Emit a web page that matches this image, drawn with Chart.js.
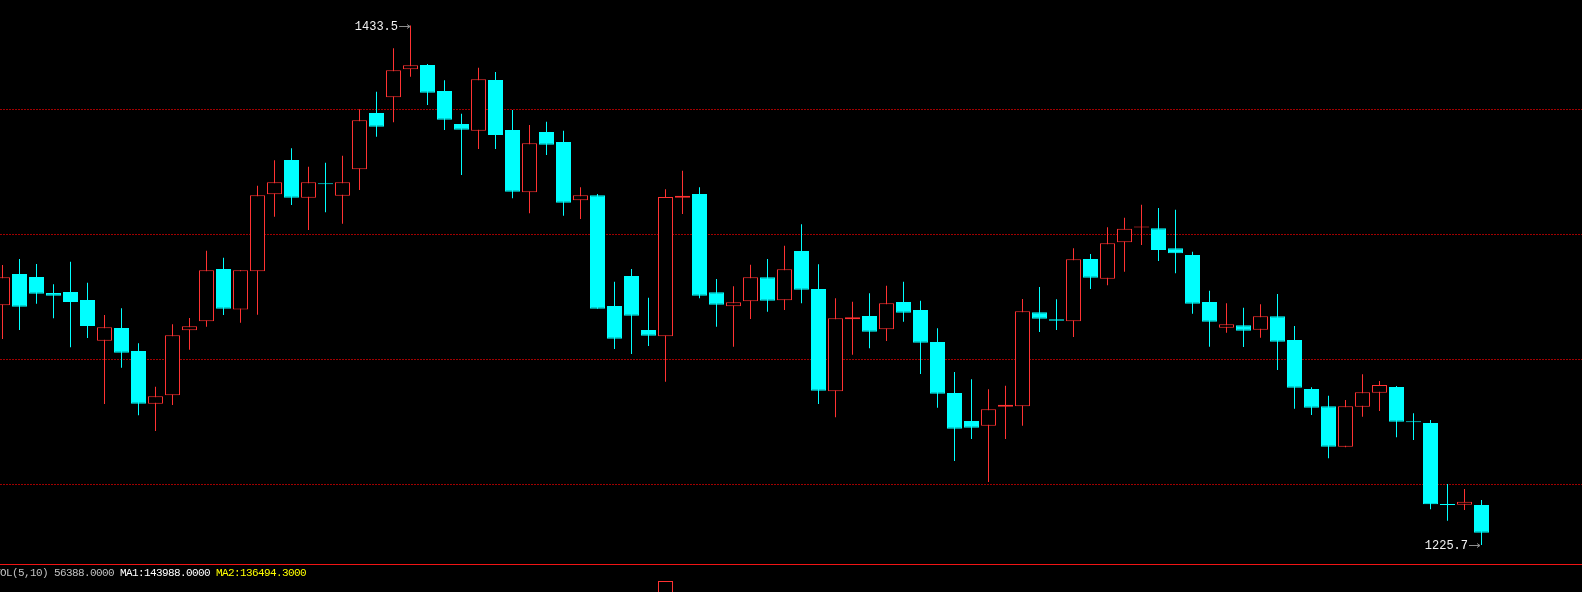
<!DOCTYPE html>
<html>
<head>
<meta charset="utf-8">
<script src="https://cdn.jsdelivr.net/npm/chart.js@4.4.0/dist/chart.umd.min.js"></script>
<style>
  html, body { margin: 0; padding: 0; background: #000; overflow: hidden; width: 1582px; height: 592px; }
  #price { position: absolute; left: 0; top: 0; }
  #vol { position: absolute; left: 0; top: 565px; }
  #sep { position: absolute; left: 0; top: 564px; width: 1582px; height: 1px; background: #f01414; }
  #volText { position: absolute; left: -6px; top: 566px; font: 11px "Liberation Mono", monospace;
             letter-spacing: -0.6px; line-height: 14px; white-space: pre; }
</style>
</head>
<body>
<canvas id="price" width="1582" height="564"></canvas>
<canvas id="vol" width="1582" height="130"></canvas>
<div id="sep"></div>
<div id="volText"></div>
<script>
// daily candles
const opens = [
  1321.6, 1334.1, 1332.9, 1326.5, 1326.9, 1323.7, 1307.4, 1312.5, 1303.3, 1282.2,
  1285.6, 1311.6, 1315.2, 1336.1, 1319.9, 1335.2, 1366.0, 1379.7, 1364.6, 1370.2,
  1365.4, 1376.0, 1398.5, 1404.8, 1416.0, 1417.7, 1407.3, 1394.1, 1391.4, 1411.7,
  1391.7, 1366.8, 1390.9, 1386.9, 1363.6, 1365.6, 1321.3, 1333.3, 1311.7, 1309.2,
  1364.6, 1366.1, 1326.8, 1321.2, 1323.2, 1332.8, 1323.6, 1343.3, 1328.1, 1287.2,
  1316.0, 1317.3, 1312.0, 1322.9, 1319.7, 1306.9, 1286.5, 1275.3, 1273.4, 1281.0,
  1281.2, 1318.8, 1316.0, 1315.2, 1340.1, 1332.2, 1346.8, 1352.7, 1352.4, 1344.4,
  1341.7, 1322.9, 1312.6, 1313.6, 1311.8, 1317.2, 1307.7, 1288.1, 1281.2, 1265.0,
  1281.0, 1286.6, 1288.9, 1275.0, 1274.5, 1241.9, 1241.8, 1241.7
];
const highs = [
  1337.7, 1340.1, 1338.1, 1330.0, 1339.0, 1330.6, 1317.7, 1320.4, 1306.4, 1289.0,
  1314.0, 1316.5, 1343.4, 1340.6, 1335.6, 1369.4, 1379.6, 1384.4, 1377.0, 1378.6,
  1381.4, 1400.0, 1407.0, 1424.4, 1433.5, 1418.1, 1411.6, 1398.2, 1416.6, 1414.9,
  1399.7, 1393.7, 1395.0, 1391.4, 1368.8, 1366.1, 1331.0, 1336.1, 1324.6, 1368.0,
  1375.4, 1368.8, 1332.1, 1329.2, 1337.8, 1340.1, 1345.4, 1354.0, 1338.0, 1324.4,
  1323.0, 1326.4, 1329.4, 1331.0, 1323.4, 1312.4, 1294.9, 1292.0, 1288.0, 1289.4,
  1324.1, 1328.9, 1324.0, 1344.4, 1342.1, 1352.8, 1356.6, 1361.8, 1360.5, 1359.8,
  1343.0, 1327.4, 1322.4, 1320.6, 1322.0, 1326.1, 1313.3, 1288.8, 1285.4, 1283.7,
  1294.0, 1291.3, 1289.3, 1278.4, 1275.7, 1250.1, 1248.1, 1243.7
];
const lows = [
  1308.1, 1311.7, 1322.2, 1316.4, 1304.8, 1308.5, 1282.1, 1296.6, 1277.6, 1271.3,
  1281.7, 1303.8, 1313.0, 1317.7, 1314.6, 1317.8, 1357.0, 1361.7, 1351.7, 1358.8,
  1354.2, 1367.7, 1389.0, 1394.8, 1413.0, 1401.7, 1391.7, 1373.7, 1384.1, 1384.1,
  1364.4, 1358.4, 1381.7, 1357.4, 1356.1, 1320.2, 1304.1, 1302.1, 1305.3, 1291.0,
  1358.1, 1324.4, 1313.0, 1305.0, 1316.1, 1319.0, 1319.7, 1322.4, 1282.1, 1276.8,
  1301.8, 1304.4, 1307.3, 1315.0, 1294.1, 1280.6, 1259.3, 1268.1, 1250.9, 1268.1,
  1273.4, 1310.9, 1311.7, 1308.9, 1328.1, 1329.6, 1335.0, 1345.7, 1339.3, 1334.4,
  1318.2, 1305.0, 1310.6, 1304.9, 1308.6, 1295.7, 1280.2, 1277.7, 1260.4, 1264.8,
  1277.0, 1279.3, 1268.8, 1267.7, 1240.0, 1235.4, 1239.7, 1225.7
];
const closes = [
  1332.8, 1321.0, 1326.2, 1325.4, 1322.9, 1313.3, 1312.8, 1302.6, 1282.2, 1285.2,
  1309.6, 1313.2, 1335.6, 1320.2, 1335.6, 1365.6, 1370.8, 1364.6, 1370.8, 1370.0,
  1370.8, 1395.6, 1393.0, 1415.6, 1417.6, 1406.6, 1395.8, 1391.8, 1412.0, 1389.7,
  1367.0, 1386.4, 1385.8, 1362.6, 1365.6, 1320.2, 1308.2, 1317.4, 1309.4, 1364.9,
  1365.4, 1325.4, 1321.8, 1322.8, 1332.8, 1323.4, 1336.0, 1327.8, 1287.4, 1316.4,
  1316.8, 1311.0, 1322.4, 1318.6, 1306.6, 1286.2, 1272.2, 1272.6, 1280.0, 1281.8,
  1319.2, 1316.2, 1315.4, 1340.0, 1332.6, 1346.4, 1352.2, 1352.9, 1343.7, 1342.4,
  1322.2, 1315.0, 1314.0, 1311.4, 1317.2, 1307.0, 1288.6, 1280.6, 1265.0, 1281.2,
  1286.8, 1289.7, 1275.0, 1274.8, 1242.0, 1241.7, 1243.0, 1230.6
];

// dotted guide levels
const gridLevels = [1250, 1300, 1350, 1400];

// only one volume bar reaches the visible strip of the volume pane
const volIndex = [39];
const volValues = [298000];

const volLabel = "VOL(5,10) 56388.0000 ";
const ma1Label = "MA1:143988.0000 ";
const ma2Label = "MA2:136494.3000";

const upColor = "#ff3232";
const downColor = "#00ffff";
const priceMin = 1218.1;
const priceMax = 1443.7;
const volMax = 340000;
const xMin = -2.5 / 17;
const xMax = xMin + 1582 / 17;

document.getElementById("volText").innerHTML =
  `<span style="color:#c0c0c0">${volLabel}</span>` +
  `<span style="color:#ffffff">${ma1Label}</span>` +
  `<span style="color:#ffff00">${ma2Label}</span>`;

const idx = opens.map((_, i) => i);
const isUp = idx.map((i) => closes[i] > opens[i]);

// high / low markers with a little arrow
const extremeLabels = {
  id: "extremeLabels",
  afterDatasetsDraw(chart) {
    const { ctx } = chart;
    const x = chart.scales.x;
    const y = chart.scales.y;
    const hi = highs.indexOf(Math.max(...highs));
    const lo = lows.indexOf(Math.min(...lows));
    [[hi, highs[hi]], [lo, lows[lo]]].forEach(([i, v]) => {
      const px = Math.round(x.getPixelForValue(i));
      const py = Math.round(y.getPixelForValue(v)) + 0.5;
      ctx.save();
      ctx.strokeStyle = "#8c8c8c";
      ctx.lineWidth = 1;
      ctx.beginPath();
      ctx.moveTo(px - 12, py);
      ctx.lineTo(px - 1, py);
      ctx.moveTo(px - 4, py - 2);
      ctx.lineTo(px - 1, py);
      ctx.lineTo(px - 4, py + 2);
      ctx.stroke();
      ctx.fillStyle = "#f2f2f2";
      ctx.font = '12px "Liberation Mono"';
      ctx.textAlign = "right";
      ctx.textBaseline = "middle";
      ctx.fillText(v.toFixed(1), px - 13, py);
      ctx.restore();
    });
  },
};

const xScale = { type: "linear", min: xMin, max: xMax, offset: false, display: false };

new Chart(document.getElementById("price"), {
  type: "bar",
  data: {
    datasets: [
      {
        label: "body",
        order: 0,
        data: idx.map((i) => ({ x: i, y: [opens[i], closes[i]] })),
        backgroundColor: idx.map((i) => (isUp[i] ? "#000000" : downColor)),
        borderColor: idx.map((i) => (isUp[i] ? upColor : downColor)),
        borderWidth: 1,
        borderSkipped: false,
        barThickness: 15,
        minBarLength: 1,
        grouped: false,
        inflateAmount: 0,
      },
      {
        label: "wick",
        order: 1,
        data: idx.map((i) => ({ x: i, y: [lows[i], highs[i]] })),
        backgroundColor: idx.map((i) => (isUp[i] ? upColor : downColor)),
        borderWidth: 0,
        barThickness: 1,
        grouped: false,
        inflateAmount: 0,
      },
    ],
  },
  options: {
    responsive: false,
    animation: false,
    events: [],
    layout: { padding: 0 },
    plugins: { legend: { display: false }, tooltip: { enabled: false } },
    scales: {
      x: xScale,
      y: {
        min: priceMin,
        max: priceMax,
        position: "left",
        afterBuildTicks: (s) => { s.ticks = gridLevels.map((v) => ({ value: v })); },
        afterFit: (s) => { s.width = 0; },
        ticks: { display: false },
        grid: { color: "#a00000", lineWidth: 1, drawTicks: false },
        border: { display: false, dash: [2, 1] },
      },
    },
  },
  plugins: [extremeLabels],
});

new Chart(document.getElementById("vol"), {
  type: "bar",
  data: {
    datasets: [
      {
        data: volIndex.map((k, j) => ({ x: k, y: volValues[j] })),
        backgroundColor: "#000000",
        borderColor: upColor,
        borderWidth: 1,
        borderSkipped: false,
        barThickness: 15,
        inflateAmount: 0,
      },
    ],
  },
  options: {
    responsive: false,
    animation: false,
    events: [],
    layout: { padding: 0 },
    plugins: { legend: { display: false }, tooltip: { enabled: false } },
    scales: {
      x: xScale,
      y: { min: 0, max: volMax, display: false },
    },
  },
});
</script>
</body>
</html>
